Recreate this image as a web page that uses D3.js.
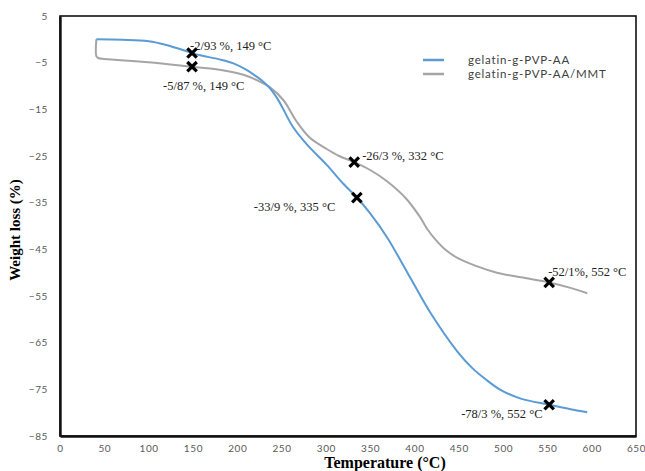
<!DOCTYPE html>
<html>
<head>
<meta charset="utf-8">
<script src="https://cdn.jsdelivr.net/npm/d3@7"></script>
<style>
  body { margin: 0; background: #fff; }
  svg { display: block; }
</style>
</head>
<body>
<div id="chart"></div>
<script>
// temperature (°C) / weight loss (%)
const blueTemp = [41, 70, 100, 120, 149, 158, 180, 195, 210, 222, 230, 237, 245, 252, 263, 278, 301, 320, 335, 350, 369, 395, 418, 448, 465, 480, 497, 520, 552, 575, 595];
const blueLoss = [0, -0.1, -0.4, -1.2, -2.93, -3.4, -4.3, -5.1, -6.5, -8.0, -9.2, -10.5, -12.6, -15.0, -18.8, -22.4, -26.9, -31, -33.9, -37.3, -42.4, -51, -58.6, -66.8, -70.4, -72.8, -75.1, -77, -78.3, -79.2, -79.9];

const grayTemp = [41, 41, 43, 50, 100, 149, 180, 207, 226, 237, 252, 267, 282, 301, 315, 332, 350, 369, 390, 406, 415, 425, 435, 450, 470, 493, 520, 552, 575, 595];
const grayLoss = [0, -3.6, -4.0, -4.2, -4.9, -5.87, -6.5, -7.6, -9.1, -10.3, -13, -17.6, -21.1, -23.5, -25, -26.3, -28, -30.4, -34, -38, -40.8, -43.2, -45.1, -47, -48.6, -50, -51, -52.1, -53.2, -54.4];

const seriesNames = ["gelatin-g-PVP-AA", "gelatin-g-PVP-AA/MMT"];
const seriesColors = ["#5b9bd5", "#a5a5a5"];

// marked points and their labels
const markTemp = [149, 149, 332, 335, 552, 552];
const markLoss = [-2.93, -5.87, -26.3, -33.9, -52.1, -78.3];
const markText = ["-2/93 %, 149 °C", "-5/87 %, 149 °C", "-26/3 %, 332 °C", "-33/9 %, 335 °C", "-52/1%, 552 °C", "-78/3 %, 552 °C"];

const xTicks = d3.range(0, 651, 50);
const yTicks = d3.range(5, -86, -10);

const width = 645, height = 471;
const margin = {top: 16, right: 9, bottom: 35, left: 60};

const svg = d3.select("#chart").append("svg")
    .attr("width", width)
    .attr("height", height);

const x = d3.scaleLinear().domain([0, 650]).range([margin.left, width - margin.right]);
const y = d3.scaleLinear().domain([-85, 5]).range([height - margin.bottom, margin.top]);

// frame
svg.append("rect")
    .attr("x", x(0)).attr("y", y(5))
    .attr("width", x(650) - x(0)).attr("height", y(-85) - y(5))
    .attr("fill", "none").attr("stroke", "#111").attr("stroke-width", 1.6);

const xAxis = svg.append("g")
    .attr("transform", `translate(0,${y(-85)})`)
    .call(d3.axisBottom(x).tickValues(xTicks).tickSize(0).tickPadding(9));
const yAxis = svg.append("g")
    .attr("transform", `translate(${x(0)},0)`)
    .call(d3.axisLeft(y).tickValues(yTicks).tickSize(0).tickPadding(12));

[xAxis, yAxis].forEach(g => {
    g.select(".domain").attr("stroke", "#111").attr("stroke-width", 2.4);
    g.selectAll("text")
        .attr("fill", "#595959")
        .style("font-family", "Lato, 'Open Sans', sans-serif")
        .style("font-size", "10px")
        .style("letter-spacing", "0.6px");
});

const line = d3.line()
    .x(d => x(d[0]))
    .y(d => y(d[1]))
    .curve(d3.curveCatmullRom.alpha(0.5));

const blue = blueTemp.map((t, i) => [t, blueLoss[i]]);
const gray = grayTemp.map((t, i) => [t, grayLoss[i]]);

svg.append("path")
    .datum(gray)
    .attr("d", line)
    .attr("fill", "none")
    .attr("stroke", seriesColors[1])
    .attr("stroke-width", 2);

svg.append("path")
    .datum(blue)
    .attr("d", line)
    .attr("fill", "none")
    .attr("stroke", seriesColors[0])
    .attr("stroke-width", 2);

// label offsets from each marker (px)
const labelDx = [-2, -29, 8, -103, -1, -88];
const labelDy = [-3, 23, -2, 13, -6, 13];
svg.append("g")
    .selectAll("text")
    .data(markText)
    .join("text")
    .attr("x", (d, i) => x(markTemp[i]) + labelDx[i])
    .attr("y", (d, i) => y(markLoss[i]) + labelDy[i])
    .text(d => d)
    .attr("fill", "#222")
    .style("font-family", "'Liberation Serif', 'DejaVu Serif', serif")
    .style("font-size", "12.5px");

// cross markers (drawn over the labels, as in the figure)
const cross = d3.symbol().type(d3.symbolX).size(60);
svg.append("g")
    .selectAll("path")
    .data(markTemp)
    .join("path")
    .attr("d", cross)
    .attr("transform", (d, i) => `translate(${x(d)},${y(markLoss[i])})`)
    .attr("stroke", "#000")
    .attr("stroke-width", 3.2);

// legend
const legend = svg.append("g");
seriesNames.forEach((name, i) => {
    const ly = 60 + i * 14;
    legend.append("line")
        .attr("x1", 423).attr("x2", 444)
        .attr("y1", ly).attr("y2", ly)
        .attr("stroke", seriesColors[i]).attr("stroke-width", 2.5);
    legend.append("text")
        .attr("x", 468).attr("y", ly + 4)
        .text(name)
        .attr("fill", "#404040")
        .style("font-family", "Lato, 'Open Sans', sans-serif")
        .style("font-size", "11.5px")
        .style("letter-spacing", "0.8px");
});

// axis titles
svg.append("text")
    .attr("x", 385).attr("y", 468)
    .attr("text-anchor", "middle")
    .text("Temperature (°C)")
    .style("font-family", "'Liberation Serif', serif")
    .style("font-weight", "bold")
    .style("font-size", "16px");

svg.append("text")
    .attr("transform", "translate(20,230) rotate(-90)")
    .attr("text-anchor", "middle")
    .text("Weight loss (%)")
    .style("font-family", "'Liberation Serif', serif")
    .style("font-weight", "bold")
    .style("font-size", "15px");
</script>
</body>
</html>
